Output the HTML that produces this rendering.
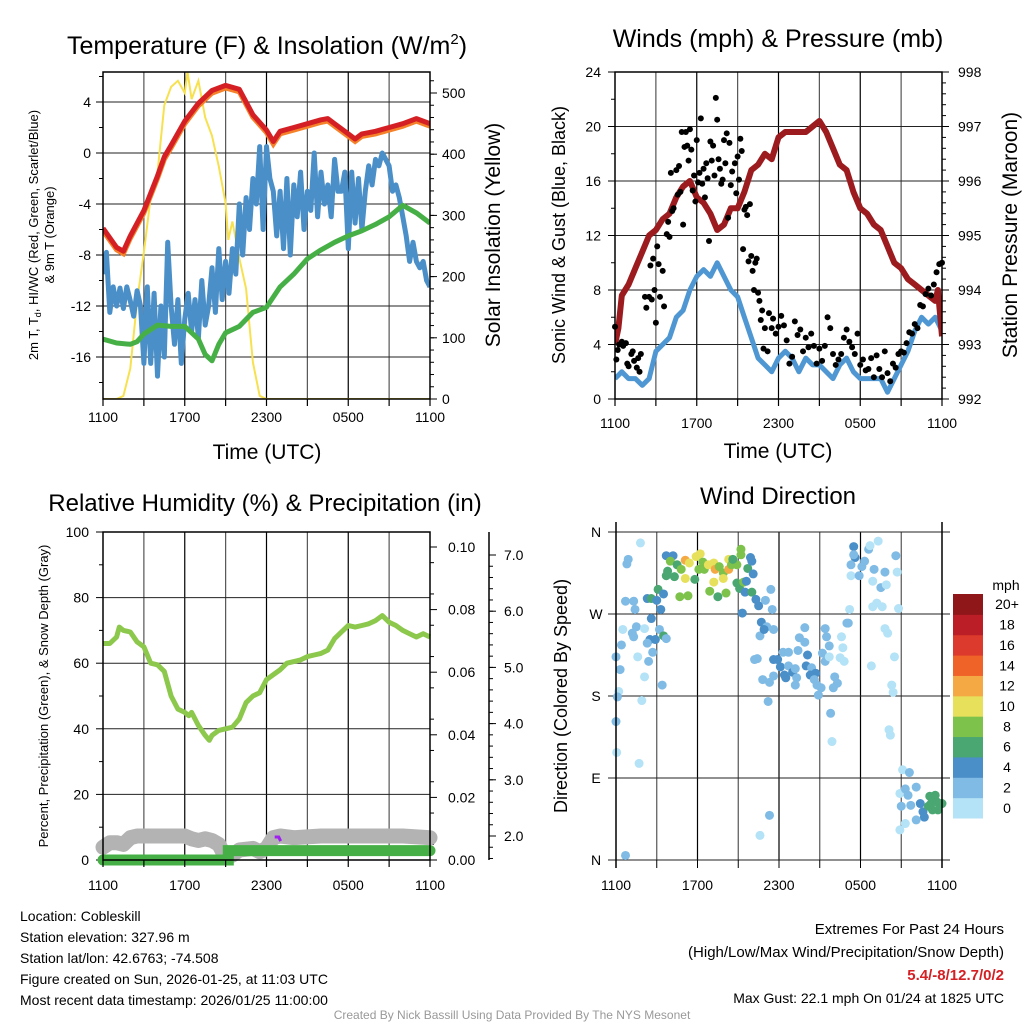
<!DOCTYPE html>
<html><head><meta charset="utf-8"><style>
body{margin:0;background:#fff;}
svg{display:block;font-family:"Liberation Sans",Arial,sans-serif;}
</style></head><body>
<svg id="s" width="1024" height="1024" viewBox="0 0 1024 1024">
<defs>
<clipPath id="c1"><rect x="103" y="72" width="327" height="327"/></clipPath>
<clipPath id="c2"><rect x="615" y="72" width="327" height="327"/></clipPath>
</defs>
</svg>
<script>
// ===== Panel 1: temperature =====
const tempHours=[0,1,1.5,2,3,4,4.5,5,6,7,8,9,10,11,12,12.5,13,14,15,16,16.5,17,18,18.5,19,20,21,22,23,24];
const tempVals=[-5.9,-7.4,-7.7,-6.5,-4.5,-1.8,-0.3,0.6,2.5,3.9,4.9,5.3,5.0,3.0,1.8,0.9,1.7,2.0,2.3,2.6,2.7,2.3,1.5,1.1,1.5,1.7,2.0,2.3,2.7,2.3];
const dewHours=[0,1,2,2.5,3,4,5,6,7,7.5,8,8.5,9,10,11,12,13,14,15,16,17,18,19,20,21,22,23,24];
const dewVals=[-14.6,-14.9,-15,-14.8,-14.2,-13.5,-13.6,-13.6,-14.6,-15.8,-16.3,-15,-14.1,-13.6,-12.5,-12.1,-10.5,-9.5,-8.3,-7.6,-7.0,-6.5,-6.1,-5.6,-5.0,-4.1,-4.7,-5.5];
const wcVals=[-9.5,-7.8,-12.5,-10.5,-12,-10.6,-12.2,-10.5,-11.6,-12.8,-10.8,-12,-16.5,-10.5,-16.5,-11,-17.5,-12,-16,-7,-12,-15,-11.5,-16.5,-13,-11,-14,-11.5,-14.5,-10,-13.5,-12,-9,-12.5,-7.5,-11.5,-8.5,-11,-7.5,-9.5,-4,-8,-3.5,-6,-2,-4,0.5,-6,0.5,-2,-3,-6.5,-3,-7.5,-2,-8,-2.5,-5,-1.5,-6,-3,-4.5,0,-5,-1.5,-4,-2.5,-5,-0.5,-3,-3,-1.5,-7.5,-1.5,-5.5,-2,-6,-3,-1,-2.5,-0.5,-1,0,-0.5,-1,-3,-2.5,-3.5,-5,-6.5,-8.5,-7,-8.5,-9,-8.5,-10,-10.5];
const solHours=[0,1,1.5,2,2.5,3,3.5,4,4.5,5,5.5,6,6.2,6.5,7,7.5,8,8.5,9,9.2,9.5,10,10.5,11,11.5,12,24];
const solVals=[0,0,5,50,160,240,330,370,480,510,520,500,535,490,520,460,430,380,320,260,290,230,180,60,5,0,0];
const p1YTicks=[4,0,-4,-8,-12,-16];
const p1RTicks=[0,100,200,300,400,500];
const xTickLabels=["1100","1700","2300","0500","1100"];
// ===== Panel 2: winds =====
const presHours=[0,0.25,0.5,1,1.5,2,2.5,3,3.5,4,4.5,5,5.5,6,6.5,7,7.5,8,8.5,9,9.5,10,10.5,11,11.5,12,12.5,13,13.5,14,14.5,15,15.5,16,16.5,17,17.5,18,18.5,19,19.5,20,20.5,21,21.5,22,22.5,23,23.5,23.7,24];
const presVals=[993.0,993.3,993.9,994.1,994.4,994.7,995.0,995.1,995.3,995.4,995.7,995.9,996.0,995.7,995.6,995.4,995.1,995.2,995.5,995.5,995.8,996.2,996.3,996.5,996.4,996.8,996.9,996.9,996.9,996.9,997.0,997.1,996.9,996.6,996.3,996.2,995.8,995.5,995.4,995.2,995.1,994.8,994.5,994.4,994.2,994.1,994.0,993.9,993.8,994.0,993.15];
const windHours=[0,0.5,1,1.5,2,2.5,3,3.5,4,4.5,5,5.5,6,6.5,7,7.5,8,8.5,9,9.5,10,10.5,11,11.5,12,12.5,13,13.5,14,14.5,15,15.5,16,16.5,17,17.5,18,18.5,19,19.5,20,20.5,21,21.5,22,22.5,23,23.5,24];
const windVals=[1.5,2,1.5,1.5,1,1.5,3.5,4,4.5,6,6.5,8,9,9.5,9,10,9,8,7.5,6,4.5,3,2.5,2,3,3.5,3,2,3,2.5,2.5,2,1.5,2.5,3,2,1.5,1.5,1.5,1.5,0.5,1.5,2.5,3.5,5,6,5.5,6,5];
const gustHours=[0,0.1,0.2,0.3,0.5,0.6,0.8,0.9,1.0,1.2,1.3,1.4,1.6,1.7,1.8,1.9,2.2,2.3,2.5,2.6,2.7,2.8,2.9,3.0,3.1,3.2,3.3,3.5,3.6,3.8,3.9,4.0,4.1,4.2,4.3,4.5,4.6,4.7,4.8,4.9,5.0,5.1,5.2,5.3,5.4,5.5,5.6,5.7,5.8,5.9,6.0,6.1,6.2,6.3,6.4,6.5,6.6,6.7,6.8,6.9,7.0,7.1,7.2,7.3,7.4,7.5,7.6,7.7,7.8,7.9,8.0,8.1,8.2,8.3,8.4,8.5,8.6,8.8,8.9,9.0,9.1,9.2,9.3,9.4,9.5,9.6,9.7,9.8,9.9,10.0,10.1,10.2,10.3,10.4,10.5,10.6,10.7,10.8,10.9,11.0,11.2,11.3,11.5,11.6,11.8,12.0,12.2,12.4,12.6,12.8,13.0,13.2,13.4,13.6,13.8,14.0,14.2,14.4,14.6,14.8,15.0,15.2,15.4,15.6,15.8,16.0,16.2,16.4,16.6,16.8,17.0,17.2,17.4,17.6,17.8,18.0,18.2,18.4,18.6,18.8,19.0,19.2,19.4,19.6,19.8,20.0,20.2,20.4,20.6,20.8,21.0,21.2,21.4,21.6,21.8,22.0,22.2,22.4,22.6,22.8,23.0,23.2,23.4,23.6,23.8,24];
const gustVals=[5.3,2.9,3.6,4,4.2,3.9,4.1,2.6,2.4,3.3,3.5,2.8,2.3,3,2,3.3,7.5,6.7,7.5,9.8,7.3,10.3,8,5.6,11.2,9.9,7.5,9.4,6.8,12.1,13,11.9,16.6,13.8,14,16.8,15,17.1,15.2,19.6,12.8,18.5,19.6,18.6,17.5,19.8,18.3,15.3,16.4,14.5,19,15.9,16.6,20.6,15.8,16.9,14.8,17.3,16.2,11.6,18.9,17.5,18.6,16.4,22.1,20.5,17.6,16.9,15.8,16.1,19,17.3,19.5,13.3,18.8,15.7,16.7,17.3,15.1,17.8,16.1,19.1,18.2,11,13.9,14.1,13.5,10.1,14.3,10.5,9.4,8,10,10.3,7.8,7.2,5.8,6.5,3.7,5.2,3.5,6.3,5.2,5.9,4.8,5.3,6.1,5.4,4.3,2.6,3.1,5.7,4.7,5.1,3.5,4.5,3.8,4.8,3.9,2.6,3.7,2.8,3.9,6,5.2,3.3,2.5,2.9,3.3,4.5,5.1,4.2,3.8,3.3,4.8,2.5,2.9,2.1,2.2,3.0,1.6,3.2,2.2,1.6,3.5,1.9,1.3,2.6,2.3,3.3,3.5,3.4,4.1,4.9,4.8,5.5,5.2,6.9,6.8,7.7,8.1,7.6,8.4,9.3,9.9,10];
const p2YTicks=[0,4,8,12,16,20,24];
const p2RTicks=[992,993,994,995,996,997,998];
// ===== Panel 3: humidity =====
const rhHours=[0,0.5,1,1.2,1.5,2,2.5,3,3.5,4,4.5,5,5.5,6,6.3,6.5,7,7.5,7.8,8,8.5,9,9.5,10,10.5,11,11.5,12,12.5,13,13.5,14,14.5,15,15.5,16,16.5,17,17.5,18,18.5,19,19.5,20,20.5,21,21.5,22,22.5,23,23.5,24];
const rhVals=[66,66,68,71,70,69.5,66.5,65,60,59.5,57.5,50,46,45,44,45,41,38,36.5,38,39.5,40,40.5,43,48,50,51,55,56.5,58,60,60.5,61,62,62.5,63,64,67.5,69.5,71.5,71,71.5,72,73,74.5,72.5,71.5,70,69,68,69,68];
const snowHours=[0,0.5,1,1.5,2,2.5,3,4,5,6,6.5,7,7.5,8,8.5,9,9.5,10,11,11.5,12,12.5,13,14,16,18,20,22,24];
const snowVals=[1.8,1.88,1.88,1.85,1.97,2.0,2.0,2.0,2.0,2.0,1.95,1.92,1.95,1.92,1.85,1.62,1.66,1.75,1.78,1.72,1.78,1.97,2.0,1.97,2.0,2.0,2.0,2.0,1.97];
const precipHours=[0,9.2,9.2,24];
const precipVals=[0,0,0.003,0.003];
const p3YTicks=[0,20,40,60,80,100];
const p3RTicks=[0,0.02,0.04,0.06,0.08,0.10];
const p3R2Ticks=[2,3,4,5,6,7];
// ===== Panel 4: wind direction =====
const dirHours=[
1.8,0.9,0.8,0.7,1.3,1.4,0.5,1.2,1.5,1.3,
2.1,0.4,0,0.3,1.6,2.4,2.1,2.7,3.4,0.2,
0.1,1.9,0,0.05,1.7,0.7,2.3,2.6,3.1,3.5,
3.0,3.3,2.6,3.2,3.5,3.7,2.5,2.9,2.3,3.7,
4.2,4.0,4.5,3.8,3.7,4.3,4.8,5.1,5.4,5.1,
5.8,5.9,6.2,6.4,6.1,6.5,6.8,7.2,7.3,7.6,
7.9,7.2,7.9,8.3,8.3,8.5,8.9,9.2,9.2,8.6,
6.9,7.5,8.1,4.7,5.3,8.9,9.1,9.4,9.7,9.9,
10.0,10.1,9.6,9.5,10.0,10.3,10.5,9.3,11.0,11.4,
11.5,10.7,11.1,11.6,10.6,10.9,10.2,10.4,11.6,11.9,
12.1,12.3,12.7,12.7,12.4,12.5,13.0,13.2,13.3,10.8,
11.3,11.6,13.2,11.2,13.5,13.9,13.9,13.4,14.1,14.0,
14.4,14.3,14.7,14.6,14.8,14.9,15.1,15.2,15.4,15.5,
15.7,15.4,15.7,16.1,16.3,16.0,16.6,16.7,16.5,16.8,
17.0,17.1,17.2,15.8,15.9,17.5,17.6,17.5,17.3,17.3,
17.9,18.1,18.3,18.6,18.7,19.3,19.0,18.9,19.5,19.9,
19.8,20.6,20.7,18.9,19.2,19.6,20.8,19.8,20.0,20.5,
18.8,20.3,20.4,20.1,20.2,21.1,21.6,20.9,21.3,21.5,
22.1,21.0,21.7,22.4,22.6,22.7,22.1,21.3,20.9,23.1,
23.5,23.2,23.6,23.8,24.0,23.3,23.7,23.0,11.3,10.6];
const dirDegs=[
348,330,325,284,284,275,253,249,256,245,
254,236,223,209,223,218,201,228,192,185,
179,175,152,118,106,5,287,287,297,292,
285,275,265,253,246,243,242,242,238,334,
334,328,324,317,312,311,319,329,326,309,
308,333,336,327,319,319,324,326,319,322,
315,305,309,330,319,324,324,341,335,330,
295,289,293,289,290,304,298,305,320,332,
328,314,306,294,294,286,279,271,285,297,
275,261,256,253,246,253,220,221,220,220,
212,228,228,213,203,200,206,210,200,198,
195,202,192,174,244,255,239,230,225,213,
211,203,205,198,192,181,189,227,254,245,
235,218,223,201,194,189,245,233,222,218,
260,260,275,161,130,344,332,335,324,312,
312,322,328,341,345,350,319,306,299,302,
316,334,316,278,282,278,276,254,249,223,
213,192,184,143,137,99,96,73,78,71,
80,59,60,62,53,47,44,40,33,70,
71,62,64,62,62,55,55,59,49,27];
const dirSpeeds=[
0,2,2,2,2,2,0,2,2,2,
0,2,2,2,0,2,0,2,2,0,
2,0,2,0,0,2,4,6,6,4,
4,4,4,2,6,2,4,4,2,4,
4,8,6,6,6,6,8,12,10,10,
6,10,10,8,8,8,10,10,12,8,
8,10,10,10,12,8,8,8,8,6,
8,6,8,8,8,6,6,8,6,4,
4,4,4,4,6,4,4,4,2,2,
2,4,2,2,2,4,2,2,4,4,
4,2,2,2,4,4,4,2,2,2,
2,2,2,2,2,2,2,2,4,4,
2,4,4,2,2,2,2,2,2,2,
2,2,0,2,2,2,0,0,0,0,
2,2,0,2,0,4,4,2,2,0,
2,2,2,2,0,0,2,0,2,0,
2,2,0,0,0,0,0,0,0,0,
0,0,0,0,0,0,2,0,2,2,
2,2,2,4,4,4,2,0,0,6,
6,6,6,6,6,6,6,6,2,0];
const speedBinLabels=["0","2","4","6","8","10","12","14","16","18","20+"];
const speedBinColors=["#b4e2f6","#7fbbe4","#4a8fc8","#4aa772","#7dc24b","#e6e05a","#f5a945","#ef6228","#dc3a2c","#bc1e27","#8f1619"];
const dirTickLabels=["N","E","S","W","N"];
const dirTickVals=[0,90,180,270,360];

const NS="http://www.w3.org/2000/svg";
const svg=document.getElementById('s');
function mk(tag,attrs,parent){const e=document.createElementNS(NS,tag);for(const k in attrs)e.setAttribute(k,attrs[k]);(parent||svg).appendChild(e);return e;}
function txt(x,y,s,size,anchor,parent,extra){const e=mk('text',Object.assign({x:x,y:y,'font-size':size,'text-anchor':anchor||'middle',fill:'#000'},extra||{}),parent);e.textContent=s;return e;}
function lin(d0,d1,r0,r1){return v=>r0+(v-d0)*(r1-r0)/(d1-d0);}
function pathOf(xs,ys,fx,fy){return xs.map((t,i)=>(i?'L':'M')+fx(t).toFixed(1)+','+fy(ys[i]).toFixed(1)).join('');}

function frame(g,L,T,R,B,name){
  const gg=mk('g',{},g);
  
  
  for(let h=3;h<24;h+=3){const x=L+(R-L)*h/24;mk('line',{x1:x,y1:T,x2:x,y2:B,stroke:h%6?'#555':'#000','stroke-width':1.2},gg);}
  return gg;
}
function xAxis(g,L,R,B,name,off){
  const ax=mk('g',{},g);
  
  
  for(let h=0;h<=24;h+=3){const x=L+(R-L)*h/24;mk('line',{x1:x,y1:B,x2:x,y2:B+7,stroke:'#000','stroke-width':1.2},ax);}
  xTickLabels.forEach((l,i)=>txt(L+(R-L)*i/4,B+off,l,14,'middle',ax));
}
function box(g,L,T,R,B){mk('rect',{x:L,y:T,width:R-L,height:B-T,fill:'none',stroke:'#000','stroke-width':1.5},g);}

// ---------- Panel 1 ----------
(function(){
  const L=103,R=430,T=72,B=399;
  const g=mk('g',{});
  
  
  const fx=lin(0,24,L,R), fy=lin(0,4,153,102), fr=lin(0,500,399,93);
  const t=txt(267,54,'Temperature (F) & Insolation (W/m',25,'middle',g);
  const sup=mk('tspan',{dy:-10,'font-size':15},t);sup.textContent='2';
  const cl=mk('tspan',{dy:10},t);cl.textContent=')';
  
  
  frame(g,L,T,R,B,'temperature');
  p1YTicks.forEach(v=>{const y=fy(v);mk('line',{x1:L,y1:y,x2:R,y2:y,stroke:'#222','stroke-width':1},g);mk('line',{x1:L-7,y1:y,x2:L,y2:y,stroke:'#000'},g);txt(L-12,y+5,String(v),14,'end',g);});
  for(let v=-18;v<=6;v+=2){const y=fy(v);if(y>=T&&y<=B)mk('line',{x1:L-4,y1:y,x2:L,y2:y,stroke:'#000'},g);}
  p1RTicks.forEach(v=>{const y=fr(v);mk('line',{x1:R,y1:y,x2:R+7,y2:y,stroke:'#000'},g);txt(R+12,y+5,String(v),14,'start',g);});
  for(let v=20;v<=530;v+=20){const y=fr(v);if(y>=T)mk('line',{x1:R,y1:y,x2:R+4,y2:y,stroke:'#000'},g);}
  const cg=mk('g',{'clip-path':'url(#c1)'},g);
  const sol=mk('path',{d:pathOf(solHours,solVals,fx,fr),fill:'none',stroke:'#f7e14f','stroke-width':2},cg);
  
  
  const wcH=wcVals.map((v,i)=>i*0.25);
  const wc=mk('path',{d:pathOf(wcH,wcVals,fx,fy),fill:'none',stroke:'#4a8fc8','stroke-width':5,'stroke-linejoin':'round'},cg);
  
  
  const dw=mk('path',{d:pathOf(dewHours,dewVals,fx,fy),fill:'none',stroke:'#46b046','stroke-width':5,'stroke-linejoin':'round'},cg);
  
  
  const or=mk('path',{d:pathOf(tempHours,tempVals.map(v=>v-0.2),fx,fy),fill:'none',stroke:'#f5822a','stroke-width':5},cg);
  
  
  const tp=mk('path',{d:pathOf(tempHours,tempVals,fx,fy),fill:'none',stroke:'#d42024','stroke-width':5,'stroke-linejoin':'round'},cg);
  
  
  box(g,L,T,R,B);xAxis(g,L,R,B,'temperature',23);
  txt(267,459,'Time (UTC)',21,'middle',g);
  const yl=mk('g',{transform:'translate(38,235) rotate(-90)'},g);
  
  
  const a=txt(0,0,'2m T, T',13,'middle',yl);const sb=mk('tspan',{dy:3,'font-size':9},a);sb.textContent='d';const rest=mk('tspan',{dy:-3},a);rest.textContent=', HI/WC (Red, Green, Scarlet/Blue)';
  txt(0,16,'& 9m T (Orange)',13,'middle',yl);
  const yr=mk('g',{transform:'translate(500,235) rotate(-90)'},g);
  txt(0,0,'Solar Insolation (Yellow)',21,'middle',yr);
})();

// ---------- Panel 2 ----------
(function(){
  const L=615,R=942,T=72,B=399;
  const g=mk('g',{});
  
  
  const fx=lin(0,24,L,R), fy=lin(0,24,B,T), fp=lin(992,998,B,T);
  const ti=txt(778,47,'Winds (mph) & Pressure (mb)',25,'middle',g);
  
  
  frame(g,L,T,R,B,'winds');
  p2YTicks.forEach(v=>{const y=fy(v);mk('line',{x1:L,y1:y,x2:R,y2:y,stroke:'#222'},g);mk('line',{x1:L-7,y1:y,x2:L,y2:y,stroke:'#000'},g);txt(L-14,y+5,String(v),14,'end',g);});
  for(let v=2;v<24;v+=4){const y=fy(v);mk('line',{x1:L-4,y1:y,x2:L,y2:y,stroke:'#000'},g);}
  p2RTicks.forEach(v=>{const y=fp(v);mk('line',{x1:R,y1:y,x2:R+7,y2:y,stroke:'#000'},g);txt(R+16,y+5,String(v),14,'start',g);});
  for(let v=992.2;v<998;v+=0.2){const y=fp(v);mk('line',{x1:R,y1:y,x2:R+4,y2:y,stroke:'#000'},g);}
  const cg=mk('g',{'clip-path':'url(#c2)'},g);
  const w=mk('path',{d:pathOf(windHours,windVals,fx,fy),fill:'none',stroke:'#4f97d2','stroke-width':5,'stroke-linejoin':'round'},cg);
  
  
  gustHours.forEach((h,i)=>{const c=mk('circle',{cx:fx(h),cy:fy(gustVals[i]),r:3,fill:'#000'},g);
    
    });
  const p=mk('path',{d:pathOf(presHours,presVals,fx,fp),fill:'none',stroke:'#9b1b1e','stroke-width':6,'stroke-linejoin':'round'},cg);
  
  
  box(g,L,T,R,B);xAxis(g,L,R,B,'winds',29);
  txt(778,458,'Time (UTC)',21,'middle',g);
  const yl=mk('g',{transform:'translate(565,235) rotate(-90)'},g);txt(0,0,'Sonic Wind & Gust (Blue, Black)',18,'middle',yl);
  const yr=mk('g',{transform:'translate(1017,235) rotate(-90)'},g);txt(0,0,'Station Pressure (Maroon)',21,'middle',yr);
})();

// ---------- Panel 3 ----------
(function(){
  const L=103,R=430,T=532,B=860;
  const g=mk('g',{});
  
  
  const fx=lin(0,24,L,R), fy=lin(0,100,B,T), fpr=lin(0,0.1,B,547), fsn=lin(2,7,836,555);
  const ti=txt(265,511,'Relative Humidity (%) & Precipitation (in)',24,'middle',g);
  
  
  frame(g,L,T,R,B,'humidity');
  p3YTicks.forEach(v=>{const y=fy(v);mk('line',{x1:L,y1:y,x2:R,y2:y,stroke:'#222'},g);mk('line',{x1:L-7,y1:y,x2:L,y2:y,stroke:'#000'},g);txt(L-14,y+5,String(v),14,'end',g);});
  for(let v=10;v<100;v+=20){const y=fy(v);mk('line',{x1:L-4,y1:y,x2:L,y2:y,stroke:'#000'},g);}
  p3RTicks.forEach(v=>{const y=fpr(v);mk('line',{x1:R,y1:y,x2:R+7,y2:y,stroke:'#000'},g);txt(R+18,y+5,v.toFixed(2),14,'start',g);});
  for(let v=0.005;v<0.1;v+=0.01){const y=fpr(v);mk('line',{x1:R,y1:y,x2:R+4,y2:y,stroke:'#000'},g);}
  const a2=mk('g',{},g);
  
  
  mk('line',{x1:489,y1:532,x2:489,y2:860,stroke:'#000','stroke-width':1.5},a2);
  p3R2Ticks.forEach(v=>{const y=fsn(v);mk('line',{x1:489,y1:y,x2:496,y2:y,stroke:'#000'},a2);txt(504,y+5,v.toFixed(1),14,'start',a2);});
  for(let v=1.6;v<7.2;v+=0.2){const y=fsn(v);mk('line',{x1:489,y1:y,x2:493,y2:y,stroke:'#000'},a2);}
  const sn=mk('path',{d:pathOf(snowHours,snowVals,fx,fsn),fill:'none',stroke:'#b3b3b3','stroke-width':15,'stroke-linecap':'round','stroke-linejoin':'round'},g);
  
  
  const pr=mk('path',{d:pathOf(precipHours,precipVals,fx,fpr),fill:'none',stroke:'#46b046','stroke-width':11,'stroke-linecap':'round'},g);
  
  
  mk('path',{d:'M'+fx(12.6)+','+(fy(7))+' l4,0 l2,4',fill:'none',stroke:'#a020f0','stroke-width':3},g);
  const rh=mk('path',{d:pathOf(rhHours,rhVals,fx,fy),fill:'none',stroke:'#8cc84b','stroke-width':5,'stroke-linejoin':'round'},g);
  
  
  box(g,L,T,R,B);xAxis(g,L,R,B,'humidity',30);
  const yl=mk('g',{transform:'translate(48,696) rotate(-90)'},g);txt(0,0,'Percent, Precipitation (Green), & Snow Depth (Gray)',13,'middle',yl);
})();

// ---------- Panel 4 ----------
(function(){
  const L=616,R=942,T=532,B=860;
  const g=mk('g',{});
  
  
  const fx=lin(0,24,L,R), fy=lin(0,360,B,T);
  const ti=txt(778,504,'Wind Direction',24,'middle',g);
  
  
  frame(g,L,T,R,B,'wind-direction');
  dirTickVals.forEach((v,i)=>{const y=fy(v);mk('line',{x1:L-8,y1:y,x2:R+8,y2:y,stroke:'#222'},g);txt(L-20,y+5,dirTickLabels[i],14,'middle',g);});
  dirHours.forEach((h,i)=>{const bin=Math.min(10,Math.round(dirSpeeds[i]/2));
    const c=mk('circle',{cx:fx(h),cy:fy(dirDegs[i]),r:4.5,fill:speedBinColors[bin]},g);
    
    });
  mk('line',{x1:L,y1:T-10,x2:L,y2:B+8,stroke:'#000','stroke-width':1.5},g);
  mk('line',{x1:R,y1:T-10,x2:R,y2:B+8,stroke:'#000','stroke-width':1.5},g);
  const ax=mk('g',{},g);
  
  
  for(let h=0;h<=24;h+=3){const x=fx(h);mk('line',{x1:x,y1:B,x2:x,y2:B+8,stroke:'#000'},ax);}
  xTickLabels.forEach((l,i)=>txt(L+(R-L)*i/4,B+30,l,14,'middle',ax));
  const yl=mk('g',{transform:'translate(567,696) rotate(-90)'},g);txt(0,0,'Direction (Colored By Speed)',18,'middle',yl);
  const lg=mk('g',{},g);
  
  
  txt(1006,590,'mph',14,'middle',lg);
  const bh=(818-594)/11;
  speedBinLabels.forEach((l,i)=>{const y=818-(i+1)*bh;mk('rect',{x:953,y:y,width:30,height:bh+0.5,fill:speedBinColors[i]},lg);txt(1007,y+bh/2+5,l,14,'middle',lg);});
})();

// ---------- Footer text ----------
const ft=mk('g',{});


["Location: Cobleskill","Station elevation: 327.96 m","Station lat/lon: 42.6763; -74.508","Figure created on Sun, 2026-01-25, at 11:03 UTC","Most recent data timestamp: 2026/01/25 11:00:00"].forEach((s,i)=>txt(20,921+i*21,s,14,'start',ft));
const ex=mk('g',{});


txt(1004,934,'Extremes For Past 24 Hours',15,'end',ex);
txt(1004,957,'(High/Low/Max Wind/Precipitation/Snow Depth)',15,'end',ex);
txt(1004,980,'5.4/-8/12.7/0/2',15,'end',ex,{fill:'#d42024','font-weight':'bold'});
txt(1004,1003,'Max Gust: 22.1 mph On 01/24 at 1825 UTC',14,'end',ex);
const cr=txt(512,1019,'Created By Nick Bassill Using Data Provided By The NYS Mesonet',12,'middle',null,{fill:'#999'});


</script>
</body></html>
